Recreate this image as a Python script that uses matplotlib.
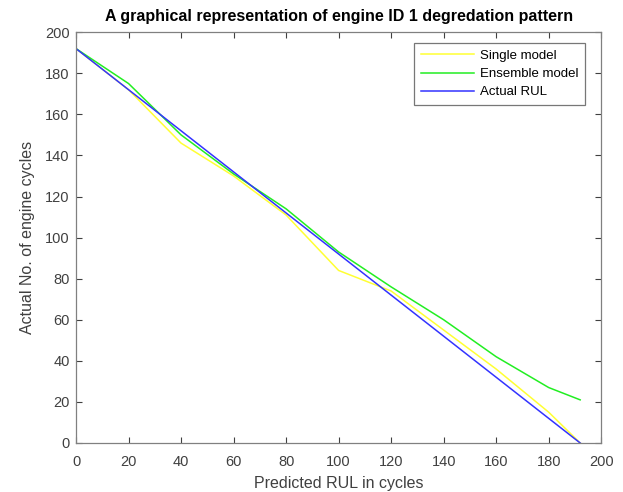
import matplotlib
matplotlib.use('Agg')
import matplotlib.pyplot as plt

plt.rcParams['font.family'] = ['Liberation Sans', 'DejaVu Sans']

# cycles (x) and the three curves
cycles = [0, 20, 40, 60, 80, 100, 120, 140, 160, 180, 192]
single_model = [192, 172, 146, 130, 111, 84, 74, 55, 36, 15, 0]
ensemble_model = [192, 175, 150, 131, 114, 93, 76, 60, 42, 27, 21]
actual_rul = [192, 172, 152, 132, 112, 92, 72, 52, 32, 12, 0]

fig = plt.figure(figsize=(6.23, 4.92), dpi=100)
ax = fig.add_axes([0.122, 0.0996, 0.843, 0.835])

ax.plot(cycles, single_model, color='#ffff33', lw=1.1, label='Single model')
ax.plot(cycles, ensemble_model, color='#22ee22', lw=1.1, label='Ensemble model')
ax.plot(cycles, actual_rul, color='#3333ff', lw=1.1, label='Actual RUL')

ax.set_xlim(0, 200)
ax.set_ylim(0, 200)
ax.set_xticks(range(0, 201, 20))
ax.set_yticks(range(0, 201, 20))

grey = '#404040'
ax.tick_params(direction='in', top=True, right=True, length=4, width=0.8,
               labelsize=10.5, colors=grey)
ax.tick_params(axis='x', pad=8.5)
ax.tick_params(axis='y', pad=4.5)
for s in ax.spines.values():
    s.set_color('#808080')
    s.set_linewidth(0.9)

ax.set_xlabel('Predicted RUL in cycles', fontsize=11.5, color=grey, labelpad=5)
ax.set_ylabel('Actual No. of engine cycles', fontsize=11.5, color=grey, labelpad=7)
ax.set_title('A graphical representation of engine ID 1 degredation pattern',
             fontsize=11.5, fontweight='bold', pad=8)

leg = ax.legend(loc='upper right', bbox_to_anchor=(0.97, 0.973), fontsize=9.5,
                frameon=True, fancybox=False, edgecolor='#555555', borderpad=0.5,
                handlelength=4.0, handletextpad=0.5, labelspacing=0.45,
                borderaxespad=0)
leg.get_frame().set_linewidth(0.9)

fig.savefig('out.png', dpi=100)
